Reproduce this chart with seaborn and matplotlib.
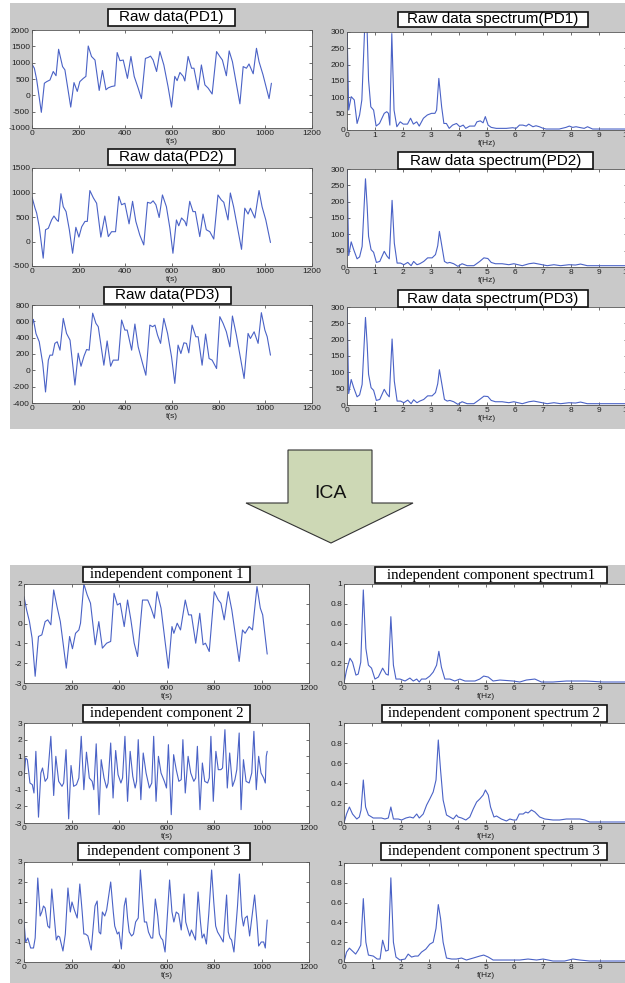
import matplotlib
matplotlib.use("Agg")
import matplotlib.pyplot as plt
import seaborn as sns
from matplotlib.patches import Rectangle, Polygon
from matplotlib.ticker import FormatStrFormatter

sns.set_style("white")
plt.rcParams["font.family"] = ["Liberation Sans", "DejaVu Sans"]
plt.rcParams["axes.unicode_minus"] = False

# ---------------- data ----------------
t_pd1 = [0, 10, 20, 40, 53, 63, 77, 91, 103, 114, 131, 141, 166, 180, 194, 205, 220, 231, 241, 255,
         270, 288, 302, 317, 327, 341, 355, 365, 377, 391, 409, 424, 438, 455, 469, 486, 498, 508, 519, 534,
         548, 565, 583, 598, 612, 622, 634, 648, 655, 669, 684, 694, 712, 726, 741, 755, 772, 791, 805, 816,
         833, 845, 859, 891, 905, 919, 930, 948, 962, 973, 990, 1016, 1026]
v_pd1 = [950, 830, 480, -520, 370, 420, 470, 730, 600, 1410, 880, 780, -360, 390, 120, 420, 520, 580, 1510, 1190,
         1080, 150, 760, 170, 230, 270, 290, 1310, 1060, 1080, 520, 1190, 580, 220, -100, 1130, 1160, 1200, 1080, 730,
         1340, 930, 270, -360, 580, 450, 700, 580, 440, 1190, 830, 830, 170, 930, 320, 220, 40, 1340, 1190, 1080,
         600, 1360, 1030, -260, 880, 830, 960, 660, 1440, 1030, 630, -100, 370]

t_pd2 = [0, 13, 20, 31, 48, 58, 70, 84, 94, 106, 113, 124, 134, 146, 160, 174, 188, 201, 213, 227,
         237, 248, 263, 277, 295, 312, 327, 341, 358, 372, 384, 398, 416, 431, 445, 462, 479, 495, 508, 519,
         531, 545, 559, 576, 591, 604, 619, 629, 641, 655, 662, 676, 690, 700, 719, 733, 747, 762, 779, 797,
         811, 822, 840, 850, 864, 898, 912, 926, 936, 955, 973, 986, 1002, 1022]
v_pd2 = [906, 680, 580, 300, -340, 240, 270, 440, 520, 440, 410, 975, 710, 610, 240, -240, 290, 90, 300, 410,
         410, 1040, 890, 780, 90, 520, 100, 200, 200, 920, 750, 780, 360, 820, 410, 130, -70, 800, 780, 830,
         750, 490, 950, 710, 270, -240, 440, 320, 480, 410, 320, 820, 610, 610, 100, 560, 240, 200, 50, 950,
         850, 800, 440, 990, 710, -160, 680, 560, 680, 480, 1040, 710, 440, -20]

t_pd3 = [0, 6, 17, 31, 46, 58, 70, 77, 88, 98, 108, 120, 134, 148, 163, 184, 198, 210, 223, 234,
         245, 260, 274, 284, 308, 322, 337, 348, 370, 384, 398, 408, 427, 441, 455, 474, 488, 505, 517, 527,
         538, 551, 565, 581, 598, 612, 626, 638, 651, 662, 672, 686, 702, 712, 729, 744, 759, 772, 791, 805,
         819, 833, 848, 859, 876, 909, 926, 936, 952, 969, 983, 998, 1008, 1022]
v_pd3 = [554, 624, 450, 350, 83, -265, 125, 186, 186, 330, 350, 247, 636, 452, 370, -180, 210, 50, 175, 255,
         247, 700, 575, 534, 63, 360, 50, 125, 125, 616, 493, 493, 247, 567, 288, 83, -60, 554, 534, 554,
         431, 330, 636, 452, 165, -160, 309, 206, 337, 330, 214, 554, 411, 411, 63, 444, 145, 125, 22, 657,
         575, 472, 288, 665, 431, -100, 452, 390, 472, 330, 706, 493, 411, 186]

f_pd1 = [0, 0.06, 0.15, 0.26, 0.36, 0.45, 0.53, 0.63, 0.68, 0.71, 0.77, 0.85, 0.95, 1.04, 1.16, 1.33, 1.42, 1.48, 1.53, 1.60,
         1.68, 1.78, 1.90, 2.01, 2.16, 2.27, 2.37, 2.49, 2.58, 2.73, 2.87, 3.02, 3.14, 3.20, 3.28, 3.38, 3.46, 3.55, 3.65, 3.77,
         3.91, 4.03, 4.15, 4.24, 4.38, 4.56, 4.64, 4.76, 4.86, 4.94, 5.04, 5.15, 5.33, 5.69, 5.92, 6.04, 6.16, 6.28, 6.40, 6.49,
         6.64, 6.75, 6.87, 7.01, 7.11, 7.35, 7.58, 7.82, 7.94, 8.06, 8.18, 8.29, 8.47, 8.59, 8.77, 9.24, 9.89, 10.5]
s_pd1 = [330, 61, 102, 92, 20, 46, 92, 310, 345, 330, 153, 71, 61, 12, 20, 51, 56, 51, 15, 295,
         61, 10, 25, 18, 18, 36, 18, 25, 12, 36, 46, 51, 51, 61, 158, 71, 20, 20, 5, 15,
         20, 10, 15, 5, 12, 12, 25, 28, 22, 41, 15, 8, 5, 5, 7, 5, 15, 15, 12, 18,
         10, 13, 10, 5, 3, 3, 3, 8, 12, 8, 10, 8, 5, 10, 3, 3, 3, 2]

f_pd23 = [0, 0.06, 0.15, 0.24, 0.36, 0.45, 0.54, 0.66, 0.72, 0.77, 0.86, 0.95, 1.05, 1.17, 1.33, 1.43, 1.51, 1.61, 1.69, 1.79,
          1.91, 2.03, 2.17, 2.29, 2.38, 2.50, 2.60, 2.74, 2.88, 3.04, 3.16, 3.24, 3.30, 3.39, 3.48, 3.58, 3.67, 3.81, 3.96, 4.11,
          4.29, 4.53, 4.74, 4.89, 5.03, 5.15, 5.30, 5.54, 5.78, 5.96, 6.26, 6.50, 6.67, 6.85, 6.97, 7.15, 7.39, 7.63, 7.93, 8.16,
          8.34, 8.58, 8.94, 9.95, 10.5]
s_pd2 = [320, 35, 77, 53, 25, 31, 63, 270, 186, 94, 53, 45, 14, 17, 48, 33, 25, 204, 73, 12,
         12, 7, 14, 4, 17, 7, 10, 17, 28, 28, 38, 65, 109, 63, 17, 12, 14, 10, 2, 10,
         4, 4, 17, 28, 26, 14, 10, 10, 7, 10, 4, 10, 12, 9, 7, 4, 7, 4, 7, 6,
         9, 4, 4, 4, 3]
s_pd3 = [320, 35, 78, 53, 25, 31, 63, 268, 186, 94, 53, 45, 14, 17, 48, 33, 25, 202, 73, 12,
         12, 7, 15, 4, 16, 7, 12, 17, 28, 28, 38, 65, 108, 63, 17, 12, 14, 10, 2, 10,
         4, 4, 17, 27, 26, 14, 10, 10, 7, 10, 4, 10, 12, 9, 7, 4, 7, 4, 7, 6,
         9, 4, 4, 4, 3]

t_ic1 = [0, 11, 23, 34, 47, 61, 75, 89, 100, 113, 125, 139, 153, 178, 192, 204, 217, 231, 238, 252,
         266, 280, 300, 315, 330, 348, 365, 379, 393, 405, 422, 436, 450, 464, 478, 499, 521, 535, 549, 560,
         577, 594, 608, 623, 631, 645, 659, 679, 693, 705, 723, 740, 754, 764, 780, 801, 818, 829, 843, 860,
         875, 906, 920, 931, 948, 962, 981, 995, 1005, 1024]
v_ic1 = [1.36, 0.69, 0.10, -0.73, -2.66, -0.65, -0.57, 0.10, 0.19, -0.06, 1.70, 0.86, 0.10, -2.25, -0.65, -1.27, -0.49, -0.32, 0.02, 2.0,
         1.45, 1.03, -1.07, 0.10, -1.24, -0.99, -0.90, 1.53, 0.94, 1.03, -0.15, 1.19, 0.19, -0.99, -1.66, 1.19, 1.19, 0.78, 0.27, 1.61,
         0.78, -0.90, -2.25, -0.15, -0.49, 0.02, -0.32, 1.19, 0.44, 0.44, -0.99, 0.52, -1.07, -0.99, -1.41, 1.61, 1.19, 1.03, 0.19, 1.61,
         0.69, -1.91, -0.32, -0.49, -0.15, -0.32, 1.87, 0.78, 0.44, -1.54]

t_ic2 = [0, 7, 14, 25, 35, 42, 50, 61, 71, 78, 89, 99, 113, 125, 134, 146, 160, 167, 177, 188,
         198, 209, 221, 231, 241, 252, 263, 275, 287, 294, 304, 316, 325, 337, 348, 354, 365, 375, 386, 396,
         408, 415, 425, 436, 447, 458, 468, 474, 481, 492, 502, 514, 528, 538, 546, 556, 566, 577, 591, 600,
         608, 620, 630, 641, 652, 662, 669, 679, 691, 702, 715, 723, 730, 741, 751, 761, 773, 780, 787, 797,
         808, 818, 829, 836, 846, 856, 866, 878, 888, 896, 906, 914, 924, 935, 948, 959, 968, 978, 988, 998,
         1009, 1016, 1020, 1024]
v_ic2 = [-0.3, 0.9, 0.8, -0.6, -0.7, -1.2, 1.3, -2.65, 0.0, 0.3, -0.5, -0.3, 2.2, -1.35, 1.0, -0.5, -0.8, -0.6, 1.4, -2.75,
         0.45, -0.8, -0.7, -0.3, 2.2, -1.0, 1.25, -0.3, -0.5, -1.0, 1.75, -2.5, 0.8, -0.3, -0.9, -0.6, 1.8, -1.5, 1.35, -0.1,
         -0.6, -0.3, 2.2, -1.7, 1.3, -0.2, -0.9, -0.5, 2.0, -1.6, 1.2, 0.0, -0.9, -0.6, 2.2, -1.7, 1.0, 0.0, -0.5, -0.9,
         1.7, -2.5, 1.1, 0.2, -0.5, -0.4, 2.0, -1.2, 1.0, 0.0, -0.5, -0.3, 1.6, -2.2, 0.6, -0.5, -0.6, -0.3, 2.2, -1.7,
         1.3, 0.2, 0.2, 0.3, 2.6, -0.9, 1.2, -0.8, -0.4, 0.2, 2.4, -2.2, 0.8, -0.5, -0.6, 0.0, 2.5, -1.0, 1.0, 0.0,
         -0.3, -0.6, 1.0, 1.3]

t_ic3 = [0, 7, 16, 28, 40, 47, 58, 68, 75, 82, 89, 100, 108, 117, 127, 136, 143, 150, 164, 174,
         185, 195, 202, 212, 224, 235, 245, 252, 259, 269, 283, 299, 308, 316, 323, 330, 340, 348, 365, 376,
         382, 393, 400, 410, 422, 429, 436, 443, 453, 461, 470, 481, 490, 500, 507, 516, 524, 535, 542, 553,
         563, 570, 577, 584, 594, 613, 623, 631, 641, 651, 662, 674, 681, 688, 698, 705, 712, 722, 733, 743,
         750, 758, 768, 778, 790, 799, 807, 815, 825, 839, 853, 860, 867, 874, 884, 899, 907, 917, 924, 931,
         940, 950, 971, 981, 988, 999, 1009, 1016, 1020, 1024]
v_ic3 = [0.0, -1.0, -0.8, -1.3, -1.3, -0.8, 2.2, 0.3, 0.5, 0.8, 0.7, -0.2, -0.3, 1.65, 0.3, -0.9, -0.7, -0.75, -1.45, -0.6,
         1.7, 0.5, 1.0, 0.6, 0.2, 1.9, 0.5, -0.6, -0.6, -0.7, -1.4, 0.8, 1.05, -0.5, -0.6, 0.5, 0.3, 0.6, 2.0, 0.5,
         -0.2, -0.6, -0.5, -1.35, 0.8, 1.2, 0.2, -0.5, -0.7, -0.6, 0.0, 0.2, 2.6, 1.0, 0.0, 0.0, -0.5, -0.8, -0.8, 1.15,
         0.3, -0.6, -0.8, -0.9, -1.5, 2.1, 0.5, 0.0, 0.5, 0.4, -0.4, 1.4, 0.0, -0.3, -0.7, -0.4, -0.6, -0.9, 1.5, 0.0,
         -0.8, -0.6, -1.1, 0.4, 2.6, 1.0, -0.2, -0.5, -0.7, -1.0, 1.35, -0.5, -0.8, -0.9, -1.5, 0.8, 2.4, 0.3, -0.2, 0.2,
         0.3, -0.7, 1.35, 0.0, -1.2, -1.0, -1.0, -1.3, -0.5, 0.1]

f_ic1 = [0, 0.09, 0.21, 0.30, 0.42, 0.50, 0.59, 0.68, 0.77, 0.86, 0.97, 1.09, 1.21, 1.36, 1.48, 1.56, 1.65, 1.74, 1.83, 1.97,
         2.15, 2.32, 2.44, 2.56, 2.65, 2.73, 2.88, 3.02, 3.14, 3.26, 3.34, 3.43, 3.55, 3.73, 3.90, 4.08, 4.26, 4.61, 4.78, 4.92,
         5.08, 5.25, 5.49, 5.96, 6.19, 6.42, 6.72, 6.95, 7.36, 7.83, 8.18, 8.53, 9.12, 9.88, 10.5]
s_ic1 = [0, 0.13, 0.25, 0.21, 0.08, 0.09, 0.21, 0.94, 0.35, 0.18, 0.15, 0.04, 0.06, 0.15, 0.09, 0.08, 0.67, 0.18, 0.04, 0.04,
         0.02, 0.05, 0.02, 0.04, 0.01, 0.04, 0.04, 0.07, 0.11, 0.18, 0.32, 0.16, 0.04, 0.04, 0.02, 0.04, 0.02, 0.02, 0.04, 0.07,
         0.06, 0.02, 0.03, 0.02, 0.01, 0.03, 0.04, 0.01, 0.01, 0.02, 0.02, 0.02, 0.01, 0.01, 0.01]

f_ic2 = [0, 0.09, 0.19, 0.30, 0.45, 0.54, 0.60, 0.68, 0.76, 0.86, 1.03, 1.21, 1.32, 1.44, 1.56, 1.65, 1.74, 1.91, 2.03, 2.18,
         2.32, 2.44, 2.56, 2.65, 2.79, 2.91, 3.02, 3.14, 3.24, 3.32, 3.40, 3.49, 3.61, 3.73, 3.85, 3.96, 4.02, 4.14, 4.29, 4.43,
         4.55, 4.67, 4.78, 4.90, 4.98, 5.08, 5.16, 5.28, 5.37, 5.54, 5.72, 5.84, 5.96, 6.07, 6.17, 6.31, 6.40, 6.48, 6.60, 6.72,
         6.89, 7.07, 7.36, 7.59, 7.83, 8.06, 8.30, 8.48, 8.65, 9.88, 10.5]
s_ic2 = [0, 0.09, 0.16, 0.09, 0.04, 0.06, 0.13, 0.43, 0.16, 0.08, 0.05, 0.05, 0.05, 0.04, 0.05, 0.16, 0.04, 0.04, 0.03, 0.05,
         0.06, 0.05, 0.09, 0.05, 0.09, 0.18, 0.24, 0.31, 0.43, 0.83, 0.53, 0.23, 0.08, 0.06, 0.04, 0.08, 0.06, 0.05, 0.03, 0.06,
         0.14, 0.21, 0.24, 0.28, 0.33, 0.28, 0.16, 0.06, 0.07, 0.04, 0.02, 0.04, 0.03, 0.03, 0.09, 0.09, 0.11, 0.10, 0.13, 0.11,
         0.06, 0.04, 0.03, 0.03, 0.04, 0.04, 0.04, 0.03, 0.01, 0.01, 0.01]

f_ic3 = [0, 0.09, 0.19, 0.30, 0.41, 0.50, 0.59, 0.68, 0.77, 0.86, 1.03, 1.17, 1.27, 1.36, 1.47, 1.56, 1.65, 1.74, 1.83, 1.97,
         2.15, 2.26, 2.38, 2.50, 2.61, 2.73, 2.88, 3.02, 3.14, 3.24, 3.32, 3.40, 3.49, 3.61, 3.79, 3.96, 4.14, 4.31, 4.55, 4.78,
         4.92, 5.08, 5.25, 5.60, 5.96, 6.19, 6.48, 6.78, 7.01, 7.36, 7.77, 8.06, 8.30, 8.65, 9.88, 10.5]
s_ic3 = [0, 0.10, 0.14, 0.11, 0.08, 0.12, 0.17, 0.64, 0.20, 0.07, 0.06, 0.03, 0.03, 0.22, 0.11, 0.12, 0.85, 0.20, 0.05, 0.02,
         0.03, 0.08, 0.05, 0.06, 0.06, 0.10, 0.13, 0.18, 0.20, 0.34, 0.58, 0.44, 0.20, 0.04, 0.03, 0.03, 0.04, 0.02, 0.04, 0.06,
         0.07, 0.05, 0.02, 0.02, 0.02, 0.02, 0.03, 0.02, 0.03, 0.01, 0.01, 0.03, 0.02, 0.01, 0.01, 0.01]

raw_titles = ["Raw data(PD1)", "Raw data(PD2)", "Raw data(PD3)"]
spec_titles = ["Raw data spectrum(PD1)", "Raw data spectrum(PD2)", "Raw data spectrum(PD3)"]
ic_titles = ["independent component 1", "independent component 2", "independent component 3"]
ics_titles = ["independent component spectrum1", "independent component spectrum 2", "independent component spectrum 3"]
arrow_label = "ICA"

# ---------------- figure ----------------
W, H = 625, 983
fig = plt.figure(figsize=(W / 100, H / 100), dpi=100)
fig.patch.set_facecolor("white")
BLUE = "#4a62c6"
GRAY_BG = "#c9c9c9"


def rect_px(x0, y0, x1, y1, **kw):
    r = Rectangle((x0 / W, 1 - y1 / H), (x1 - x0) / W, (y1 - y0) / H,
                  transform=fig.transFigure, **kw)
    fig.patches.append(r)
    return r


def add_ax(x0, x1, top, bottom):
    return fig.add_axes([x0 / W, 1 - bottom / H, (x1 - x0) / W, (bottom - top) / H])


def style(ax, xlim, ylim, xticks, yticks, xlabel, fmt=None):
    ax.set_facecolor("white")
    ax.set_xlim(*xlim)
    ax.set_ylim(*ylim)
    ax.set_xticks(xticks)
    ax.set_yticks(yticks)
    if fmt:
        ax.yaxis.set_major_formatter(FormatStrFormatter(fmt))
    ax.tick_params(direction="in", length=2.5, width=0.5, top=True, right=True,
                   bottom=True, left=True, labelsize=6, pad=1.5, colors="#333333",
                   labelcolor="#222222")
    for s in ax.spines.values():
        s.set_visible(True)
        s.set_color("#555555")
        s.set_linewidth(0.6)
    ax.set_xlabel(xlabel, fontsize=6, labelpad=0.5, color="#222222")
    ax.set_ylabel("")


def title_box(x0, y0, x1, y1, text, family, size):
    rect_px(x0, y0, x1, y1, facecolor="white", edgecolor="#111111", linewidth=1.2, zorder=4)
    fig.text((x0 + x1) / 2 / W, 1 - (y0 + y1) / 2 / H, text, ha="center", va="center",
             fontsize=size, family=family, color="black", zorder=5)


# gray panel backgrounds
rect_px(10, 3, 625, 429, facecolor=GRAY_BG, edgecolor="none", zorder=-1)
rect_px(10, 565, 625, 983, facecolor=GRAY_BG, edgecolor="none", zorder=-1)

# ---- top: raw data ----
raw_t = [t_pd1, t_pd2, t_pd3]
raw_v = [v_pd1, v_pd2, v_pd3]
raw_ylim = [(-1000, 2000), (-500, 1500), (-400, 800)]
raw_yticks = [range(-1000, 2001, 500), range(-500, 1501, 500), range(-400, 801, 200)]
raw_rows = [(30, 128), (168, 266), (305, 403)]
raw_boxes = [(108, 9, 235, 26), (108, 149, 235, 165), (104, 287, 231, 304)]
spec_f = [f_pd1, f_pd23, f_pd23]
spec_s = [s_pd1, s_pd2, s_pd3]
spec_rows = [(32, 130), (169, 267), (307, 405)]
spec_boxes = [(398, 12, 588, 27), (398, 152, 593, 169), (398, 290, 588, 307)]

for i in range(3):
    ax = add_ax(32, 312, *raw_rows[i])
    sns.lineplot(x=raw_t[i], y=raw_v[i], ax=ax, color=BLUE, linewidth=0.8)
    style(ax, (0, 1200), raw_ylim[i], range(0, 1201, 200), list(raw_yticks[i]), "t(s)")

    ax2 = add_ax(347, 627, *spec_rows[i])
    sns.lineplot(x=spec_f[i], y=spec_s[i], ax=ax2, color=BLUE, linewidth=0.8)
    style(ax2, (0, 10), (0, 300), range(0, 11), range(0, 301, 50), "f(Hz)")

for i in range(3):
    title_box(*raw_boxes[i], raw_titles[i], ["Liberation Sans"], 11)
    title_box(*spec_boxes[i], spec_titles[i], ["Liberation Sans"], 11)

# ---- arrow ----
arrow_px = [(288, 450), (372, 450), (372, 503), (413, 503), (331, 543), (246, 503), (288, 503)]
fig.patches.append(Polygon([(x / W, 1 - y / H) for x, y in arrow_px], closed=True,
                           transform=fig.transFigure, facecolor="#cdd8b5",
                           edgecolor="#333333", linewidth=0.8, zorder=2))
fig.text(330 / W, 1 - 493 / H, arrow_label, ha="center", va="center", fontsize=14,
         family=["Liberation Sans"], color="#111111", zorder=3)

# ---- bottom: independent components ----
ic_t = [t_ic1, t_ic2, t_ic3]
ic_v = [v_ic1, v_ic2, v_ic3]
ic_ylim = [(-3, 2), (-3, 3), (-2, 3)]
ic_rows = [(584, 683), (723, 823), (862, 962)]
ic_boxes = [(83, 567, 250, 582), (83, 705, 250, 722), (78, 843, 250, 860)]
ics_f = [f_ic1, f_ic2, f_ic3]
ics_s = [s_ic1, s_ic2, s_ic3]
ics_rows = [(584, 683), (723, 823), (863, 962)]
ics_boxes = [(375, 567, 607, 583), (382, 705, 607, 722), (381, 843, 607, 860)]

for i in range(3):
    ax = add_ax(24, 309, *ic_rows[i])
    sns.lineplot(x=ic_t[i], y=ic_v[i], ax=ax, color=BLUE, linewidth=0.8)
    lo, hi = ic_ylim[i]
    style(ax, (0, 1200), ic_ylim[i], range(0, 1201, 200), list(range(lo, hi + 1)), "t(s)")

    ax2 = add_ax(344, 628, *ics_rows[i])
    sns.lineplot(x=ics_f[i], y=ics_s[i], ax=ax2, color=BLUE, linewidth=0.8)
    style(ax2, (0, 10), (0, 1), range(0, 10), [0, 0.2, 0.4, 0.6, 0.8, 1.0], "f(Hz)", fmt="%g")

for i in range(3):
    title_box(*ic_boxes[i], ic_titles[i], ["Liberation Serif"], 10.7)
    title_box(*ics_boxes[i], ics_titles[i], ["Liberation Serif"], 10.7)

fig.savefig("out.png", dpi=100, facecolor="white")
